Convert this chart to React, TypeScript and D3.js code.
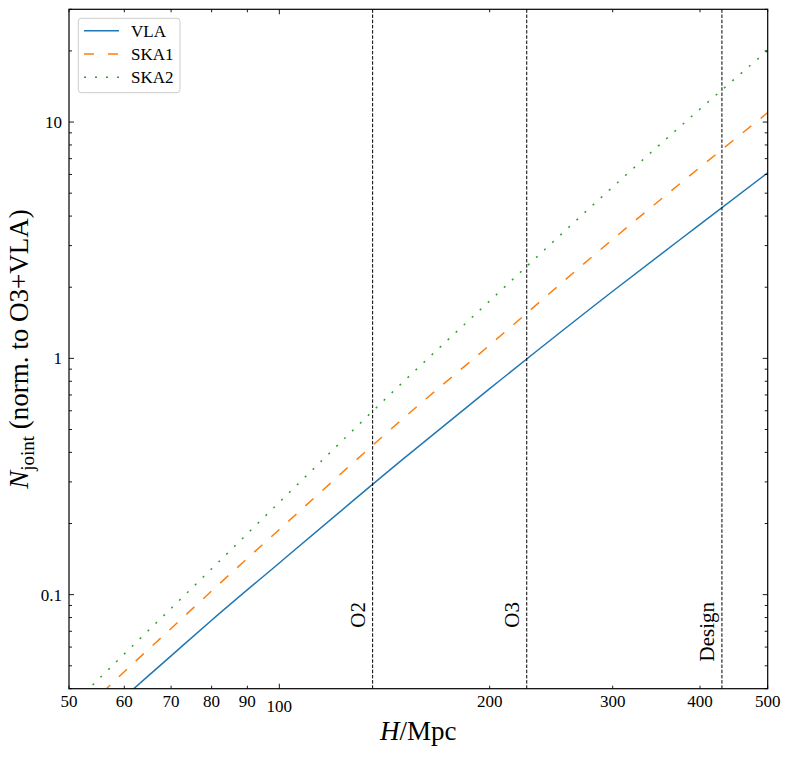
import * as d3 from 'd3';

// distance in Mpc (x) and joint detections normalised to O3+VLA (y)
const H_VALUES = [50, 60, 70, 80, 100, 150, 200, 300, 400, 500];
const VLA = [0.0230, 0.0369, 0.0551, 0.0779, 0.1362, 0.3725, 0.744, 1.923, 3.69, 6.10];
const SKA1 = [0.0282, 0.0472, 0.0719, 0.1037, 0.1887, 0.553, 1.138, 3.19, 6.43, 10.96];
const SKA2 = [0.0331, 0.0561, 0.0875, 0.1287, 0.246, 0.789, 1.750, 5.31, 11.35, 20.1];

const SERIES_NAMES = ['VLA', 'SKA1', 'SKA2'];
const SERIES_COLORS = ['#1f77b4', '#ff7f0e', '#2ca02c'];
const SERIES_DASH = ['none', '11,12', '2,9'];

const RUN_NAMES = ['O2', 'O3', 'Design'];
const RUN_H = [136, 226, 430];

const X_TICKS = [50, 60, 70, 80, 90, 100, 200, 300, 400, 500];
const X_MAJOR = [100];
const Y_MAJOR = [0.1, 1, 10];
const Y_MAJOR_LABELS = ['0.1', '1', '10'];
const Y_MINOR = [0.04, 0.05, 0.06, 0.07, 0.08, 0.09, 0.2, 0.3, 0.4, 0.5, 0.6, 0.7, 0.8, 0.9,
  2, 3, 4, 5, 6, 7, 8, 9, 20, 30];

const W = 790;
const H = 757;
const PLOT = { left: 69, right: 767.7, top: 9.3, bottom: 688.7 };
const FONT = '"Liberation Serif", "Times New Roman", serif';

export default function App() {
  const x = d3.scaleLog().domain([50, 500]).range([PLOT.left, PLOT.right]);
  const y = d3.scaleLog().domain([0.04, 30]).range([PLOT.bottom, PLOT.top]);

  const line = d3.line<[number, number]>()
    .x(d => x(d[0]))
    .y(d => y(d[1]))
    .curve(d3.curveMonotoneX);

  const series = [VLA, SKA1, SKA2].map(vals => H_VALUES.map((h, i) => [h, vals[i]] as [number, number]));

  const MAJ = 5;
  const MIN = 3;

  return (
    <svg width={W} height={H} style={{ position: 'absolute', left: 0, top: 0, display: 'block' }}
      fontFamily={FONT}>
      <rect width={W} height={H} fill="#fff" />
      <defs>
        <clipPath id="plot-clip">
          <rect x={PLOT.left} y={PLOT.top} width={PLOT.right - PLOT.left} height={PLOT.bottom - PLOT.top} />
        </clipPath>
      </defs>

      {/* curves */}
      <g clipPath="url(#plot-clip)">
        {series.map((pts, i) => (
          <path key={SERIES_NAMES[i]} d={line(pts) ?? ''} fill="none"
            stroke={SERIES_COLORS[i]} strokeWidth={1.5}
            strokeDasharray={SERIES_DASH[i]} />
        ))}
      </g>

      {/* observing runs */}
      {RUN_H.map((h, i) => (
        <g key={RUN_NAMES[i]}>
          <line x1={x(h)} x2={x(h)} y1={PLOT.top} y2={PLOT.bottom}
            stroke="#000" strokeWidth={1} strokeDasharray="3.5,1.7" />
          <text transform={`translate(${x(h) - 8},602) rotate(-90)`} textAnchor="end"
            fontSize={21} fill="#000">{RUN_NAMES[i]}</text>
        </g>
      ))}

      {/* x ticks, bottom and top, pointing in */}
      {X_TICKS.map(t => {
        const len = X_MAJOR.includes(t) ? MAJ : MIN;
        return (
          <g key={'x' + t}>
            <line x1={x(t)} x2={x(t)} y1={PLOT.bottom} y2={PLOT.bottom - len} stroke="#000" strokeWidth={0.9} />
            <line x1={x(t)} x2={x(t)} y1={PLOT.top} y2={PLOT.top + len} stroke="#000" strokeWidth={0.9} />
            <text x={x(t)} y={t === 100 ? 712 : 706.5} textAnchor="middle" fontSize={17} fill="#000">{t}</text>
          </g>
        );
      })}

      {/* y ticks, left and right */}
      {Y_MINOR.map(t => (
        <g key={'ym' + t}>
          <line x1={PLOT.left} x2={PLOT.left + MIN} y1={y(t)} y2={y(t)} stroke="#000" strokeWidth={0.9} />
          <line x1={PLOT.right} x2={PLOT.right - MIN} y1={y(t)} y2={y(t)} stroke="#000" strokeWidth={0.9} />
        </g>
      ))}
      {Y_MAJOR.map((t, i) => (
        <g key={'yM' + t}>
          <line x1={PLOT.left} x2={PLOT.left + MAJ} y1={y(t)} y2={y(t)} stroke="#000" strokeWidth={0.9} />
          <line x1={PLOT.right} x2={PLOT.right - MAJ} y1={y(t)} y2={y(t)} stroke="#000" strokeWidth={0.9} />
          <text x={PLOT.left - 7} y={y(t) + 6} textAnchor="end" fontSize={17} fill="#000">{Y_MAJOR_LABELS[i]}</text>
        </g>
      ))}

      {/* frame */}
      <rect x={PLOT.left} y={PLOT.top} width={PLOT.right - PLOT.left} height={PLOT.bottom - PLOT.top}
        fill="none" stroke="#000" strokeWidth={1.2} />

      {/* axis labels */}
      <text x={(PLOT.left + PLOT.right) / 2} y={740} textAnchor="middle" fontSize={27} fill="#000">
        <tspan fontStyle="italic">H</tspan>/Mpc
      </text>
      <text transform={`translate(28,${(PLOT.top + PLOT.bottom) / 2}) rotate(-90)`} textAnchor="middle"
        fontSize={27} fill="#000">
        <tspan fontStyle="italic">N</tspan>
        <tspan fontSize={19} dy={6}>joint</tspan>
        <tspan dy={-6}> (norm. to O3+VLA)</tspan>
      </text>

      {/* legend */}
      <rect x={78.3} y={18.3} width={101.7} height={74.4} rx={3} fill="#fff" fillOpacity={0.8}
        stroke="#cccccc" strokeWidth={1} />
      {SERIES_NAMES.map((name, i) => {
        const ly = 30.7 + i * 23.3;
        return (
          <g key={'leg' + name}>
            <line x1={84} x2={119} y1={ly} y2={ly} stroke={SERIES_COLORS[i]} strokeWidth={1.5}
              strokeDasharray={i === 1 ? '10,14' : SERIES_DASH[i]} />
            <text x={131} y={ly + 6} fontSize={17} fill="#000">{name}</text>
          </g>
        );
      })}
    </svg>
  );
}
